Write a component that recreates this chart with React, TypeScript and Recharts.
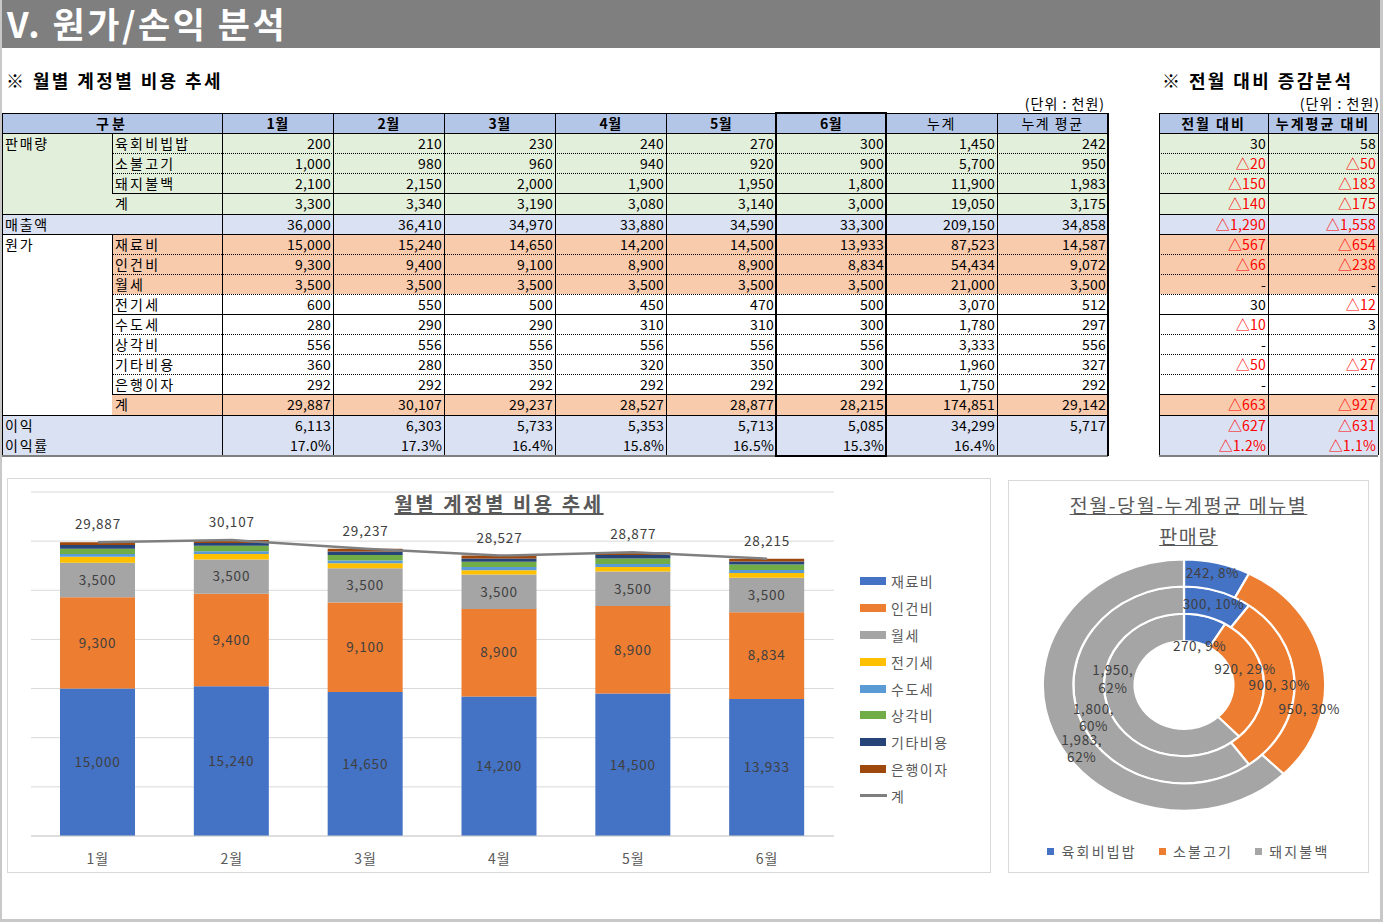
import React from 'react';
import {
  ComposedChart, Bar, Line, XAxis, YAxis, CartesianGrid, LabelList,
  PieChart, Pie, Cell,
} from 'recharts';

const FONT = "'Noto Sans CJK KR', 'Noto Sans', sans-serif";

// ---------- data ----------
const months = ['1월', '2월', '3월', '4월', '5월', '6월'];
const tableHeaders = ['1월', '2월', '3월', '4월', '5월', '6월', '누계', '누계 평균'];
const diffHeaders = ['전월 대비', '누계평균 대비'];

// 판매량
const salesBibimbap = [200, 210, 230, 240, 270, 300, 1450, 242];
const salesBulgogi = [1000, 980, 960, 940, 920, 900, 5700, 950];
const salesPork = [2100, 2150, 2000, 1900, 1950, 1800, 11900, 1983];
const salesTotal = [3300, 3340, 3190, 3080, 3140, 3000, 19050, 3175];
// 매출액
const revenue = [36000, 36410, 34970, 33880, 34590, 33300, 209150, 34858];
// 원가
const material = [15000, 15240, 14650, 14200, 14500, 13933, 87523, 14587];
const labor = [9300, 9400, 9100, 8900, 8900, 8834, 54434, 9072];
const rent = [3500, 3500, 3500, 3500, 3500, 3500, 21000, 3500];
const electricity = [600, 550, 500, 450, 470, 500, 3070, 512];
const water = [280, 290, 290, 310, 310, 300, 1780, 297];
const depreciation = [556, 556, 556, 556, 556, 556, 3333, 556];
const otherCost = [360, 280, 350, 320, 350, 300, 1960, 327];
const interest = [292, 292, 292, 292, 292, 292, 1750, 292];
const costTotal = [29887, 30107, 29237, 28527, 28877, 28215, 174851, 29142];
// 이익
const profit = [6113, 6303, 5733, 5353, 5713, 5085, 34299, 5717];
const profitRate = ['17.0%', '17.3%', '16.4%', '15.8%', '16.5%', '15.3%', '16.4%', ''];

// 증감분석 (row order as table)
const diffPrevMonth = [30, -20, -150, -140, -1290, -567, -66, 0, 30, -10, 0, -50, 0, -663, -627, -1.2];
const diffCumAvg = [58, -50, -183, -175, -1558, -654, -238, 0, -12, 3, 0, -27, 0, -927, -631, -1.1];

// donut (inner → outer: 전월, 당월, 누계평균)
const menus = ['육회비빕밥', '소불고기', '돼지불백'];
const prevMonthSales = [270, 920, 1950];
const currMonthSales = [300, 900, 1800];
const cumAvgSales = [242, 950, 1983];
const menuColors = ['#4472C4', '#ED7D31', '#A5A5A5'];

const yTicks = [0, 5000, 10000, 15000, 20000, 25000, 30000, 35000];

const costSeries = [
  { key: 'material', name: '재료비', color: '#4472C4', values: material, label: true },
  { key: 'labor', name: '인건비', color: '#ED7D31', values: labor, label: true },
  { key: 'rent', name: '월세', color: '#A5A5A5', values: rent, label: true },
  { key: 'electricity', name: '전기세', color: '#FFC000', values: electricity, label: false },
  { key: 'water', name: '수도세', color: '#5B9BD5', values: water, label: false },
  { key: 'depreciation', name: '상각비', color: '#70AD47', values: depreciation, label: false },
  { key: 'otherCost', name: '기타비용', color: '#264478', values: otherCost, label: false },
  { key: 'interest', name: '은행이자', color: '#9E480E', values: interest, label: false },
];

const chartData = months.map((m, i) => {
  const row: any = { month: m, total: costTotal[i] };
  costSeries.forEach((s) => { row[s.key] = s.values[i]; });
  return row;
});

// ---------- table styling ----------
const HEADER_BG = '#B4C6E7';
const GREEN = '#E2EFDA';
const BLUE = '#D9E1F2';
const ORANGE = '#F8CBAD';
const WHITE = '#FFFFFF';

type Row = { group?: string; sub?: string; bg: string; firstBg: string; values: (number | string)[]; pct?: boolean };
const rows: Row[] = [
  { group: '판매량', sub: '육회비빕밥', bg: GREEN, firstBg: GREEN, values: salesBibimbap },
  { sub: '소불고기', bg: GREEN, firstBg: GREEN, values: salesBulgogi },
  { sub: '돼지불백', bg: GREEN, firstBg: GREEN, values: salesPork },
  { sub: '계', bg: GREEN, firstBg: GREEN, values: salesTotal },
  { group: '매출액', bg: BLUE, firstBg: BLUE, values: revenue },
  { group: '원가', sub: '재료비', bg: ORANGE, firstBg: WHITE, values: material },
  { sub: '인건비', bg: ORANGE, firstBg: WHITE, values: labor },
  { sub: '월세', bg: ORANGE, firstBg: WHITE, values: rent },
  { sub: '전기세', bg: WHITE, firstBg: WHITE, values: electricity },
  { sub: '수도세', bg: WHITE, firstBg: WHITE, values: water },
  { sub: '상각비', bg: WHITE, firstBg: WHITE, values: depreciation },
  { sub: '기타비용', bg: WHITE, firstBg: WHITE, values: otherCost },
  { sub: '은행이자', bg: WHITE, firstBg: WHITE, values: interest },
  { sub: '계', bg: ORANGE, firstBg: WHITE, values: costTotal },
  { group: '이익', bg: BLUE, firstBg: BLUE, values: profit },
  { group: '이익률', bg: BLUE, firstBg: BLUE, values: profitRate, pct: true },
];

// line after row index (0 = header, 1..16 data rows): [style, fromSubCol]
const hLines: [string, boolean][] = [
  ['solid', false],
  ['dotted', true], ['dotted', true], ['solid', true], ['solid', false],
  ['solid', false],
  ['dotted', true], ['dotted', true], ['dotted', true], ['solid', true],
  ['dotted', true], ['dotted', true], ['dotted', true], ['solid', true],
  ['solid', false], ['none', false], ['solid', false],
];
const subColVLineRows = [1, 2, 3, 6, 7, 8, 9, 10, 11, 12, 13];

const COLS = [2, 112, 222, 333, 444, 555, 666, 776, 886, 997, 1108];
const RCOLS = [1159, 1268, 1378];
const TOP = 113;
const RH = 20.1;
const ry = (i: number) => Math.round(TOP + i * RH);

function fmt(v: number | string) {
  return typeof v === 'number' ? v.toLocaleString('en-US') : v;
}
function fmtDiff(v: number, pct: boolean) {
  if (v === 0) return { text: '-', color: '#000' };
  const a = Math.abs(v);
  const s = pct ? a.toFixed(1) + '%' : a.toLocaleString('en-US');
  return v < 0 ? { text: '△' + s, color: '#FF0000' } : { text: s, color: '#000' };
}

function Table() {
  const els: React.ReactNode[] = [];
  let k = 0;
  const rect = (x: number, y: number, w: number, h: number, bg: string) =>
    els.push(<div key={k++} style={{ position: 'absolute', left: x, top: y, width: w, height: h, background: bg }} />);
  const txt = (x0: number, x1: number, r: number, t: string, opts: any = {}) =>
    els.push(
      <div key={k++} style={{
        position: 'absolute', left: x0 + 3, width: x1 - x0 - 6, top: ry(r), height: ry(r + 1) - ry(r),
        lineHeight: `${ry(r + 1) - ry(r)}px`, fontSize: 14, whiteSpace: 'nowrap', color: '#000',
        textAlign: opts.align || 'right', fontWeight: opts.bold ? 700 : 400, letterSpacing: opts.ls || 0,
        ...opts.style,
      }}>{t}</div>
    );
  const hl = (x0: number, x1: number, y: number, style: string, color = '#000', w = 1) =>
    els.push(<div key={k++} style={{ position: 'absolute', left: x0, top: y, width: x1 - x0, height: 0, borderTop: `${w}px ${style} ${color}` }} />);
  const vl = (x: number, y0: number, y1: number, w = 1, color = '#000') =>
    els.push(<div key={k++} style={{ position: 'absolute', left: x, top: y0, width: 0, height: y1 - y0, borderLeft: `${w}px solid ${color}` }} />);

  rect(COLS[0], ry(0), COLS[10] - COLS[0], ry(1) - ry(0), HEADER_BG);
  rect(RCOLS[0], ry(0), RCOLS[2] - RCOLS[0], ry(1) - ry(0), HEADER_BG);
  rows.forEach((row, i) => {
    const r = i + 1;
    const h = ry(r + 1) - ry(r);
    rect(COLS[0], ry(r), COLS[1] - COLS[0], h, row.firstBg);
    rect(COLS[1], ry(r), COLS[10] - COLS[1], h, row.bg);
    rect(RCOLS[0], ry(r), RCOLS[2] - RCOLS[0], h, row.bg);
  });

  txt(COLS[0], COLS[2], 0, '구분', { align: 'center', bold: true, ls: 3 });
  tableHeaders.forEach((h, c) => {
    const bold = c < 6;
    txt(COLS[c + 2], COLS[c + 3], 0, h, { align: 'center', bold, ls: c < 6 ? 0.5 : 1.5 });
  });
  diffHeaders.forEach((h, c) => txt(RCOLS[c], RCOLS[c + 1], 0, h, { align: 'center', bold: true, ls: 2 }));

  rows.forEach((row, i) => {
    const r = i + 1;
    if (row.group) txt(COLS[0], COLS[2], r, row.group, { align: 'left', ls: 1.8, style: { left: COLS[0] + 3 } });
    if (row.sub) txt(COLS[1], COLS[2], r, row.sub, { align: 'left', ls: 2.2 });
    row.values.forEach((v, c) => txt(COLS[c + 2], COLS[c + 3], r, fmt(v), { ls: 0.2, style: { width: COLS[c + 3] - COLS[c + 2] - 5 } }));
    const d1 = fmtDiff(diffPrevMonth[i], !!row.pct);
    const d2 = fmtDiff(diffCumAvg[i], !!row.pct);
    txt(RCOLS[0], RCOLS[1], r, d1.text, { ls: 0.2, style: { color: d1.color, width: RCOLS[1] - RCOLS[0] - 5 } });
    txt(RCOLS[1], RCOLS[2], r, d2.text, { ls: 0.2, style: { color: d2.color, width: RCOLS[2] - RCOLS[1] - 5 } });
  });

  hl(COLS[0], COLS[10], ry(0), 'solid');
  hl(RCOLS[0], RCOLS[2], ry(0), 'solid');
  hLines.forEach(([style, fromSub], i) => {
    if (style === 'none') return;
    const y = ry(i + 1);
    const last = i === 16;
    hl(fromSub ? COLS[1] : COLS[0], COLS[10], y, style, last ? '#7f7f7f' : '#000', last ? 2 : 1);
    hl(RCOLS[0], RCOLS[2], y, style, last ? '#7f7f7f' : '#000', last ? 2 : 1);
  });
  const yTop = ry(0), yBot = ry(17);
  vl(COLS[0], yTop, yBot);
  for (let c = 2; c < 10; c++) vl(COLS[c], yTop, yBot);
  vl(COLS[10] - 1, yTop, yBot + 1, 2);
  subColVLineRows.forEach((r) => vl(COLS[1], ry(r), ry(r + 1)));
  RCOLS.forEach((x) => vl(x, yTop, yBot));
  els.push(<div key={k++} style={{ position: 'absolute', left: COLS[7] - 1, top: yTop - 1, width: COLS[8] - COLS[7] + 2, height: yBot - yTop + 3, border: '2px solid #000', boxSizing: 'border-box' }} />);
  return <>{els}</>;
}

// ---------- donut ----------
const SX = 1.124;
// label placement tweaks per ring & slice: [angle shift (deg, clockwise), radius shift]
const labelShift: [number, number][][] = [
  [[4, -16], [-10, -1], [27, 6]],
  [[0, 0], [0, 0], [-4, 2]],
  [[-1, 3], [21, 2], [-12.5, -1]],
];
function makePieLabel(ring: number) {
  return (props: any) => {
    const { cx, cy, midAngle, innerRadius, outerRadius, value, percent, index } = props;
    const [da, dr] = labelShift[ring][index] || [0, 0];
    const r = (innerRadius + outerRadius) / 2 + dr;
    const theta = ((90 - midAngle + da) * Math.PI) / 180;
    const x = cx + r * Math.sin(theta);
    const y = cy - r * Math.cos(theta);
    const v = Number(value).toLocaleString('en-US');
    const p = Math.round(percent * 100) + '%';
    return (
      <text key={`l${ring}-${index}`} transform={`translate(${x},${y}) scale(${1 / SX},1)`} textAnchor="middle" fontSize={13.5} fill="#404040" fontFamily={FONT} letterSpacing={0.6}>
        {index === 2 ? (
          <>
            <tspan x={0} dy="-0.28em">{v},</tspan>
            <tspan x={0} dy="1.3em">{p}</tspan>
          </>
        ) : (
          <tspan x={0} dy="0.35em">{v}, {p}</tspan>
        )}
      </text>
    );
  };
}

const ringData = (vals: number[]) => menus.map((name, i) => ({ name, value: vals[i] }));

const PIE_CX = 1184;
const PIE_CY = 684.5;

export default function App() {
  const legendTop = 581;
  const numFmt = (v: any) => Number(v).toLocaleString('en-US');
  return (
    <div style={{ position: 'absolute', left: 0, top: 0, width: 1383, height: 922, background: '#fff', fontFamily: FONT, overflow: 'hidden' }}>
      <div style={{ position: 'absolute', left: 0, top: 0, width: 1383, height: 48, background: '#7F7F7F' }} />
      <div style={{ position: 'absolute', left: 7, top: -1, height: 50, lineHeight: '48px', fontSize: 35, fontWeight: 700, color: '#fff', letterSpacing: 2.5, whiteSpace: 'nowrap' }}>V. 원가/손익 분석</div>

      <div style={{ position: 'absolute', left: 6, top: 68, fontSize: 18, fontWeight: 700, color: '#000', letterSpacing: 2.4, lineHeight: '24px', whiteSpace: 'nowrap' }}>※ 월별 계정별 비용 추세</div>
      <div style={{ position: 'absolute', left: 1162, top: 68, fontSize: 18, fontWeight: 700, color: '#000', letterSpacing: 2.4, lineHeight: '24px', whiteSpace: 'nowrap' }}>※ 전월 대비 증감분석</div>
      <div style={{ position: 'absolute', left: 900, width: 205, textAlign: 'right', top: 93, fontSize: 14, color: '#000', lineHeight: '20px', letterSpacing: 1 }}>(단위 : 천원)</div>
      <div style={{ position: 'absolute', left: 1175, width: 205, textAlign: 'right', top: 93, fontSize: 14, color: '#000', lineHeight: '20px', letterSpacing: 1 }}>(단위 : 천원)</div>

      <Table />

      {/* bar chart box */}
      <div style={{ position: 'absolute', left: 7, top: 478, width: 984, height: 395, border: '1px solid #d9d9d9', boxSizing: 'border-box' }} />
      <div style={{ position: 'absolute', left: 7, top: 478 }}>
        <ComposedChart width={984} height={394} data={chartData} margin={{ top: 14, right: 157, bottom: 6, left: 24 }} barSize={75}>
          <CartesianGrid vertical={false} stroke="#d9d9d9" />
          <YAxis hide domain={[0, 35000]} ticks={yTicks} />
          <XAxis dataKey="month" axisLine={{ stroke: '#d0d0d0' }} tickLine={false} tickMargin={12} height={30}
            tick={{ fill: '#595959', fontSize: 14, fontFamily: FONT, letterSpacing: 1 }} />
          {costSeries.map((s) => (
            <Bar key={s.key} dataKey={s.key} name={s.name} stackId="cost" fill={s.color} isAnimationActive={false}>
              {s.label && (
                <LabelList dataKey={s.key} position="center" fill="#404040" fontSize={13.5} fontFamily={FONT}
                  letterSpacing={0.8} formatter={numFmt} />
              )}
            </Bar>
          ))}
          <Line dataKey="total" name="계" stroke="#7F7F7F" strokeWidth={2.5} dot={false} isAnimationActive={false}>
            <LabelList dataKey="total" position="top" offset={13} fill="#404040" fontSize={13.5} fontFamily={FONT}
              letterSpacing={0.8} formatter={numFmt} />
          </Line>
        </ComposedChart>
      </div>
      <div style={{ position: 'absolute', left: 7, width: 984, top: 491, textAlign: 'center', fontSize: 20, fontWeight: 700, color: '#595959', textDecoration: 'underline', lineHeight: '26px', letterSpacing: 2.5 }}>월별 계정별 비용 추세</div>
      <div style={{ position: 'absolute', left: 860, top: legendTop - 13 }}>
        {costSeries.map((s) => (
          <div key={s.key} style={{ display: 'flex', alignItems: 'center', height: 26.8 }}>
            <div style={{ width: 26, height: 8, background: s.color }} />
            <span style={{ marginLeft: 5, fontSize: 14, color: '#595959', letterSpacing: 1.5 }}>{s.name}</span>
          </div>
        ))}
        <div style={{ display: 'flex', alignItems: 'center', height: 26.8 }}>
          <div style={{ width: 27, height: 3, background: '#7F7F7F' }} />
          <span style={{ marginLeft: 4, fontSize: 14, color: '#595959' }}>계</span>
        </div>
      </div>

      {/* donut box */}
      <div style={{ position: 'absolute', left: 1008, top: 480, width: 361, height: 393, border: '1px solid #d9d9d9', boxSizing: 'border-box' }} />
      <div style={{ position: 'absolute', left: 1008, width: 361, top: 489, textAlign: 'center', fontSize: 19.5, color: '#595959', textDecoration: 'underline', lineHeight: '31px', letterSpacing: 1.6 }}>
        전월-당월-누계평균 메뉴별<br />판매량
      </div>
      <div style={{ position: 'absolute', left: PIE_CX - 155, top: PIE_CY - 155, width: 310, height: 310, transform: `scaleX(${SX})`, transformOrigin: '155px 155px' }}>
        <PieChart width={310} height={310} margin={{ top: 5, right: 5, bottom: 5, left: 5 }}>
          {[prevMonthSales, currMonthSales, cumAvgSales].map((vals, ri) => (
            <Pie key={ri} data={ringData(vals)} dataKey="value" nameKey="name" cx="50%" cy="50%"
              innerRadius={44 + ri * 27.2} outerRadius={71.2 + ri * 27.2} startAngle={90} endAngle={-270}
              stroke="#fff" strokeWidth={2} label={makePieLabel(ri)} labelLine={false} isAnimationActive={false}>
              {vals.map((_, i) => <Cell key={i} fill={menuColors[i]} />)}
            </Pie>
          ))}
        </PieChart>
      </div>
      <div style={{ position: 'absolute', left: 1008, width: 361, top: 841, display: 'flex', justifyContent: 'center', gap: 22, fontSize: 14, color: '#595959', lineHeight: '20px' }}>
        {menus.map((m, i) => (
          <div key={m} style={{ display: 'flex', alignItems: 'center' }}>
            <div style={{ width: 7, height: 7, background: menuColors[i], marginRight: 7 }} />
            <span style={{ letterSpacing: 2.2 }}>{m}</span>
          </div>
        ))}
      </div>

      <div style={{ position: 'absolute', left: 0, top: 0, width: 1383, height: 922, borderLeft: '2px solid #c8c8c8', borderRight: '3px solid #c8c8c8', borderBottom: '3px solid #c8c8c8', boxSizing: 'border-box', pointerEvents: 'none' }} />
    </div>
  );
}
